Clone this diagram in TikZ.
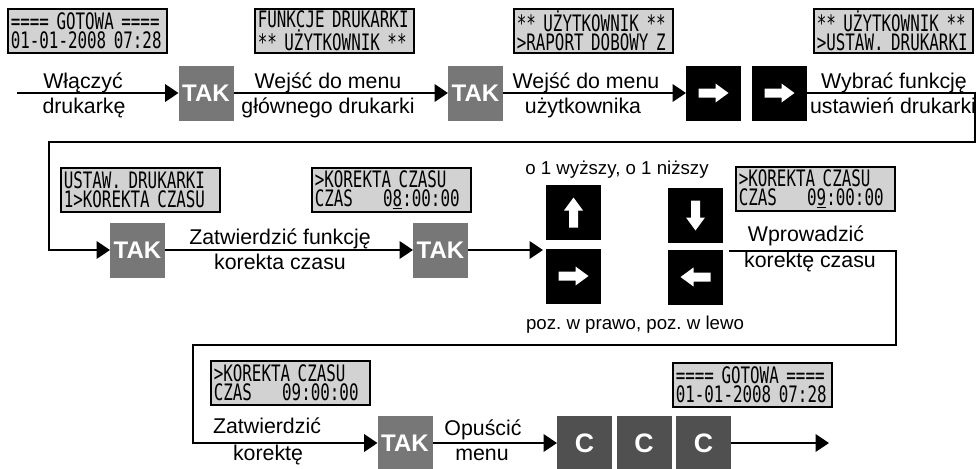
\documentclass[tikz,border=0pt]{standalone}
\usepackage{fontspec}
\setmainfont{Liberation Sans}
\newfontfamily\lcdfont[FakeStretch=0.7]{DejaVu Sans Mono}
\usetikzlibrary{arrows.meta}
\definecolor{takgray}{HTML}{777777}
\definecolor{cgray}{HTML}{505050}
\definecolor{lcdfill}{HTML}{D2D2D2}
\frenchspacing
\begin{document}
\begin{tikzpicture}[x=0.75pt,y=-0.75pt,
  lcd/.style={draw=black, line width=1.4pt, fill=lcdfill, minimum width=119.25pt, minimum height=33pt, inner sep=0pt, align=left, text width=115pt, font=\lcdfont\fontsize{17}{14}\selectfont, anchor=north west},
  tak/.style={fill=takgray, text=white, minimum size=41.25pt, inner sep=0pt, outer sep=0pt, font=\bfseries\fontsize{18}{18}\selectfont},
  cbox/.style={tak, fill=cgray, font=\bfseries\fontsize{20}{20}\selectfont},
  keybox/.style={fill=black, minimum size=41.25pt, inner sep=0pt, outer sep=0pt},
  lbl/.style={font=\fontsize{16}{16}\selectfont, anchor=base, inner sep=0pt},
  small/.style={font=\fontsize{14}{14}\selectfont, inner sep=0pt},
  flow/.style={line width=1.6pt},
  arr/.style={flow, -{Triangle[length=10pt,width=13pt]}},
  warrow/.pic={\fill[white] (-15,-4.5) -- (2,-4.5) -- (2,-9.5) -- (15,0) -- (2,9.5) -- (2,4.5) -- (-15,4.5) -- cycle;}
]
\useasboundingbox (0,0) rectangle (977,468);

% LCD displays
\node[lcd] (l1) at (7,8) {==== GOTOWA ====\\{}01-01-2008 07:28};
\node[lcd] (l2) at (254,8) {FUNKCJE DRUKARKI\\{}** UŻYTKOWNIK **};
\node[lcd] (l3) at (513,8) {** UŻYTKOWNIK **\\{}>RAPORT DOBOWY Z};
\node[lcd] (l4) at (813,8) {** UŻYTKOWNIK **\\{}>USTAW. DRUKARKI};
\node[lcd] (l5) at (60,167) {USTAW. DRUKARKI\\{}1>KOREKTA CZASU};
\node[lcd] (l6) at (311,167) {>KOREKTA CZASU\\{}CZAS~~~~0\underline{8}:00:00};
\node[lcd] (l7) at (735,166) {>KOREKTA CZASU\\{}CZAS~~~~0\underline{9}:00:00};
\node[lcd] (l8) at (210,360) {>KOREKTA CZASU\\{}CZAS~~~~09:00:00};
\node[lcd] (l9) at (672,362) {==== GOTOWA ====\\{}01-01-2008 07:28};

% Row 1
\node[tak] (tak1) at (206,93) {TAK};
\node[tak] (tak2) at (475.5,93) {TAK};
\node[keybox] (k1) at (713.5,93) {};
\node[keybox] (k2) at (779.5,93) {};
\pic at (k1.center) {warrow};
\pic at (k2.center) {warrow};

\coordinate (s0) at (17,93);
\coordinate (r1) at (975,93);
\coordinate (r2) at (975,142);
\coordinate (r3) at (49,142);

\node[lbl] (t1a) at (83,88) {Włączyć};
\node[lbl] (t1b) at (84,113) {drukarkę};
\node[lbl] (t2a) at (328,88) {Wejść do menu};
\node[lbl] (t2b) at (328,113) {głównego drukarki};
\node[lbl] (t3a) at (586,88) {Wejść do menu};
\node[lbl] (t3b) at (583,113) {użytkownika};
\node[lbl] (t4a) at (894,88) {Wybrać funkcję};
\node[lbl] (t4b) at (893,113) {ustawień drukarki};

% Row 2
\node[tak] (tak3) at (137.5,250) {TAK};
\node[tak] (tak4) at (440.5,250) {TAK};
\node[keybox] (kup) at (573.5,212.5) {};
\node[keybox] (kright) at (573.5,276) {};
\node[keybox] (kdown) at (695.5,215.5) {};
\node[keybox] (kleft) at (695.5,277) {};
\pic[rotate=90] at (kup.center) {warrow};
\pic at (kright.center) {warrow};
\pic[rotate=-90] at (kdown.center) {warrow};
\pic[rotate=180] at (kleft.center) {warrow};

\coordinate (m0) at (543,250);
\coordinate (n0) at (729,251);
\coordinate (n1) at (896,251);
\coordinate (n2) at (896,345);
\coordinate (n3) at (193,345);

\node[lbl] (t5a) at (280,244) {Zatwierdzić funkcję};
\node[lbl] (t5b) at (280,269) {korekta czasu};
\node[small] (t6a) at (617,170) {o 1 wyższy, o 1 niższy};
\node[small] (t6b) at (635,325) {poz. w prawo, poz. w lewo};
\node[lbl] (t7a) at (806,241) {Wprowadzić};
\node[lbl] (t7b) at (810,267) {korektę czasu};

% Row 3
\node[tak] (tak5) at (405,443) {TAK};
\node[cbox] (c1) at (584.5,443) {C};
\node[cbox] (c2) at (644,443) {C};
\node[cbox] (c3) at (703.5,443) {C};
\coordinate (e0) at (829,443);

\node[lbl] (t8a) at (267,433) {Zatwierdzić};
\node[lbl] (t8b) at (268,460) {korektę};
\node[lbl] (t9a) at (483,435) {Opuścić};
\node[lbl] (t9b) at (482,460) {menu};

% Connectors
\draw[arr] (s0) -- (tak1);
\draw[arr] (tak1) -- (tak2);
\draw[arr] (tak2) -- (k1);
\draw[arr] (k2.east) -- (r1) -- (r2) -- (r3) |- (tak3);
\draw[arr] (tak3) -- (tak4);
\draw[arr] (tak4) -- (m0);
\draw[arr] (n0) -- (n1) -- (n2) -- (n3) |- (tak5);
\draw[arr] (tak5) -- (c1);
\draw[arr] (c3) -- (e0);
\end{tikzpicture}
\end{document}
